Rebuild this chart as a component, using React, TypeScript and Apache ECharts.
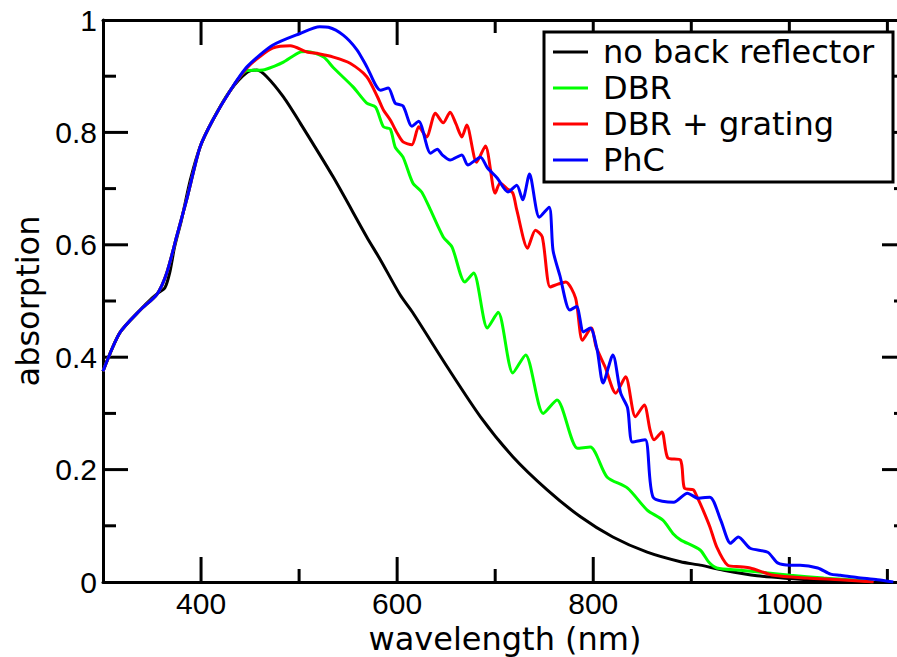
import React, { useEffect, useRef } from "react";
import * as echarts from "echarts";

// wavelength (nm), absorption
const noReflector: [number, number][] = [
  [300, 0.375], [317, 0.443], [338, 0.484], [350, 0.505], [356, 0.514], [363, 0.523],
  [368, 0.55], [373, 0.596], [380, 0.644], [389, 0.715], [399, 0.774], [412, 0.822],
  [430, 0.875], [447, 0.907], [457, 0.911], [467, 0.899], [484, 0.863], [501, 0.817],
  [535, 0.72], [569, 0.614], [583, 0.573], [603, 0.511], [616, 0.479], [651, 0.383],
  [685, 0.294], [718, 0.223], [753, 0.164], [787, 0.116], [820, 0.08], [855, 0.053],
  [889, 0.036], [909, 0.03], [933, 0.021], [967, 0.011], [1001, 0.006], [1035, 0.002],
  [1060, 0],
];

const dbr: [number, number][] = [
  [300, 0.375], [317, 0.443], [338, 0.484], [355, 0.512], [365, 0.55], [375, 0.614],
  [386, 0.685], [399, 0.774], [412, 0.822], [430, 0.875], [447, 0.91], [463, 0.911],
  [475, 0.918], [484, 0.925], [501, 0.943], [508, 0.944], [525, 0.934], [535, 0.915],
  [555, 0.881], [569, 0.852], [578, 0.845], [586, 0.81], [593, 0.806], [598, 0.774],
  [606, 0.756], [616, 0.71], [625, 0.694], [634, 0.662], [647, 0.614], [656, 0.596],
  [669, 0.534], [678, 0.55], [692, 0.452], [703, 0.48], [718, 0.372], [731, 0.404],
  [749, 0.3], [763, 0.324], [784, 0.238], [797, 0.24], [814, 0.187], [835, 0.167],
  [855, 0.128], [871, 0.11], [882, 0.085], [889, 0.075], [909, 0.057], [918, 0.035],
  [926, 0.025], [950, 0.021], [1001, 0.012], [1035, 0.007], [1069, 0.003], [1085, 0],
];

const dbrGrating: [number, number][] = [
  [300, 0.375], [317, 0.443], [338, 0.484], [355, 0.512], [365, 0.55], [375, 0.614],
  [386, 0.685], [399, 0.774], [412, 0.822], [430, 0.875], [447, 0.915], [460, 0.935],
  [473, 0.95], [491, 0.954], [508, 0.943], [520, 0.94], [535, 0.934], [552, 0.923],
  [569, 0.899], [580, 0.863], [586, 0.84], [593, 0.822], [600, 0.799], [606, 0.783],
  [615, 0.778], [622, 0.81], [630, 0.792], [639, 0.834], [647, 0.817], [654, 0.836],
  [660, 0.815], [666, 0.792], [671, 0.813], [681, 0.747], [690, 0.776], [700, 0.692],
  [705, 0.71], [712, 0.7], [718, 0.692], [722, 0.662], [733, 0.594], [741, 0.626],
  [748, 0.614], [756, 0.525], [764, 0.53], [772, 0.534], [782, 0.505], [789, 0.43],
  [798, 0.452], [803, 0.418], [812, 0.383], [823, 0.336], [833, 0.365], [843, 0.294],
  [852, 0.315], [858, 0.27], [862, 0.253], [870, 0.267], [876, 0.221], [889, 0.217],
  [893, 0.167], [902, 0.164], [906, 0.151], [912, 0.128], [919, 0.098], [926, 0.062],
  [937, 0.03], [950, 0.027], [960, 0.025], [984, 0.012], [1018, 0.007], [1052, 0.004],
  [1086, 0],
];

const phc: [number, number][] = [
  [300, 0.375], [317, 0.443], [338, 0.484], [355, 0.512], [365, 0.55], [375, 0.614],
  [386, 0.685], [399, 0.774], [412, 0.822], [430, 0.875], [447, 0.917], [473, 0.955],
  [501, 0.976], [521, 0.988], [530, 0.987], [545, 0.973], [559, 0.947], [569, 0.917],
  [583, 0.875], [591, 0.879], [598, 0.852], [606, 0.847], [615, 0.811], [622, 0.82],
  [634, 0.763], [641, 0.77], [646, 0.76], [654, 0.751], [666, 0.76], [672, 0.742],
  [685, 0.756], [692, 0.737], [702, 0.719], [713, 0.694], [722, 0.706], [728, 0.68],
  [735, 0.726], [745, 0.649], [755, 0.667], [759, 0.59], [766, 0.545], [776, 0.484],
  [783, 0.49], [790, 0.445], [797, 0.452], [804, 0.413], [810, 0.354], [820, 0.404],
  [828, 0.336], [835, 0.31], [840, 0.249], [853, 0.253], [861, 0.151], [882, 0.142],
  [896, 0.158], [907, 0.149], [919, 0.151], [930, 0.11], [940, 0.069], [948, 0.08],
  [960, 0.06], [978, 0.053], [988, 0.034], [1001, 0.03], [1011, 0.03], [1029, 0.025],
  [1042, 0.014], [1052, 0.012], [1069, 0.008], [1090, 0.004], [1106, 0],
];

const seriesNames = ["no back reflector", "DBR", "DBR + grating", "PhC"];
const seriesColors = ["#000000", "#00ff00", "#ff0000", "#0000ff"];
const xTickLabels = [400, 600, 800, 1000];
const xMajorTicks = [400, 600, 800, 1000];
const xMinorTicks = [500, 700, 900, 1100];
const yMajorTicks = [0.2, 0.4, 0.6, 0.8];
const yMinorTicks = [0.1, 0.3, 0.5, 0.7, 0.9];

const X_MIN = 300;
const X_MAX = 1120;
const AXIS = "#000000";
const NUM_FONT = "Liberation Sans";
const TXT_FONT = "DejaVu Sans";

export default function App() {
  const ref = useRef<HTMLDivElement>(null);

  useEffect(() => {
    if (!ref.current) return;
    const chart = echarts.init(ref.current, undefined, { renderer: "svg" });
    const lineW = 3;
    const frameLine = { show: true, onZero: false, lineStyle: { color: AXIS, width: lineW } };
    const xBase = {
      type: "value" as const,
      min: X_MIN,
      max: X_MAX,
      splitLine: { show: false },
      axisTick: { show: false },
      minorTick: { show: false },
      axisLine: frameLine,
    };
    const yBase = {
      type: "value" as const,
      min: 0,
      max: 1,
      interval: 0.2,
      splitLine: { show: false },
      minorSplitLine: { show: false },
      axisTick: { show: false },
      minorTick: { show: false },
      axisLine: frameLine,
    };
    // tick marks: [x, y, kind] kind 0 = x major, 1 = x minor, 2 = y major, 3 = y minor
    const tickData = [
      ...xMajorTicks.map((v) => [v, 0.5, 0]),
      ...xMinorTicks.map((v) => [v, 0.5, 1]),
      ...yMajorTicks.map((v) => [700, v, 2]),
      ...yMinorTicks.map((v) => [700, v, 3]),
    ];
    const tickStyle = { stroke: AXIS, lineWidth: lineW };
    const datasets = [noReflector, dbr, dbrGrating, phc];
    chart.setOption({
      animation: false,
      backgroundColor: "#ffffff",
      grid: {
        left: 103,
        top: 20,
        width: 804,
        height: 562,
        containLabel: false,
        outerBoundsMode: "none",
      },
      xAxis: [
        {
          ...xBase,
          position: "bottom",
          axisLabel: {
            show: true,
            customValues: xTickLabels,
            formatter: (v: number) => String(v),
            margin: 6,
            fontSize: 30,
            fontFamily: NUM_FONT,
            color: AXIS,
          },
          name: "wavelength (nm)",
          nameLocation: "middle",
          nameGap: 37,
          nameTextStyle: { fontSize: 32, fontFamily: TXT_FONT, color: AXIS },
        },
        {
          ...xBase,
          position: "top",
          axisLabel: { show: false },
        },
      ],
      yAxis: [
        {
          ...yBase,
          position: "left",
          axisLabel: {
            show: true,
            margin: 6,
            fontSize: 30,
            fontFamily: NUM_FONT,
            color: AXIS,
            formatter: (v: number) => String(Number(v.toFixed(1))),
          },
          name: "absorption",
          nameLocation: "middle",
          nameGap: 57,
          nameTextStyle: { fontSize: 32, fontFamily: TXT_FONT, color: AXIS },
        },
        {
          ...yBase,
          position: "right",
          axisLabel: { show: false },
        },
      ],
      legend: {
        data: seriesNames,
        orient: "vertical",
        left: 553,
        top: 34,
        padding: 0,
        itemGap: 0,
        itemWidth: 35,
        itemHeight: 3,
        icon: "rect",
        selectedMode: false,
        z: 10,
        textStyle: {
          fontSize: 32,
          fontFamily: TXT_FONT,
          color: AXIS,
          lineHeight: 36,
          padding: [0, 0, 0, 10],
        },
      },
      graphic: [
        {
          type: "rect",
          z: 5,
          shape: { x: 544, y: 32, width: 349, height: 150 },
          style: { fill: "#ffffff", stroke: "#000000", lineWidth: 3 },
        },
      ],
      series: [
        {
          name: "ticks",
          type: "custom",
          xAxisIndex: 0,
          yAxisIndex: 0,
          clip: false,
          silent: true,
          z: 1,
          data: tickData,
          renderItem: (_params: any, api: any) => {
            const a = api.value(0);
            const b = api.value(1);
            const k = api.value(2);
            const len = k === 0 || k === 2 ? 25 : 13;
            if (k < 2) {
              const bot = api.coord([a, 0]);
              const top = api.coord([a, 1]);
              return {
                type: "group",
                children: [
                  { type: "line", shape: { x1: bot[0], y1: bot[1], x2: bot[0], y2: bot[1] - len }, style: tickStyle },
                  { type: "line", shape: { x1: top[0], y1: top[1], x2: top[0], y2: top[1] + len }, style: tickStyle },
                ],
              };
            }
            const l = api.coord([X_MIN, b]);
            const r = api.coord([X_MAX, b]);
            return {
              type: "group",
              children: [
                { type: "line", shape: { x1: l[0], y1: l[1], x2: l[0] + len, y2: l[1] }, style: tickStyle },
                { type: "line", shape: { x1: r[0], y1: r[1], x2: r[0] - len, y2: r[1] }, style: tickStyle },
              ],
            };
          },
        },
        ...datasets.map((d, i) => ({
          name: seriesNames[i],
          type: "line",
          xAxisIndex: 0,
          yAxisIndex: 0,
          data: d,
          symbol: "none",
          smooth: 0.25,
          color: seriesColors[i],
          lineStyle: { color: seriesColors[i], width: 3 },
          z: 2 + i * 0.01,
        })),
      ],
    });
    return () => chart.dispose();
  }, []);

  return (
    <div
      ref={ref}
      style={{ position: "absolute", left: 0, top: 0, width: 897, height: 657 }}
    />
  );
}
